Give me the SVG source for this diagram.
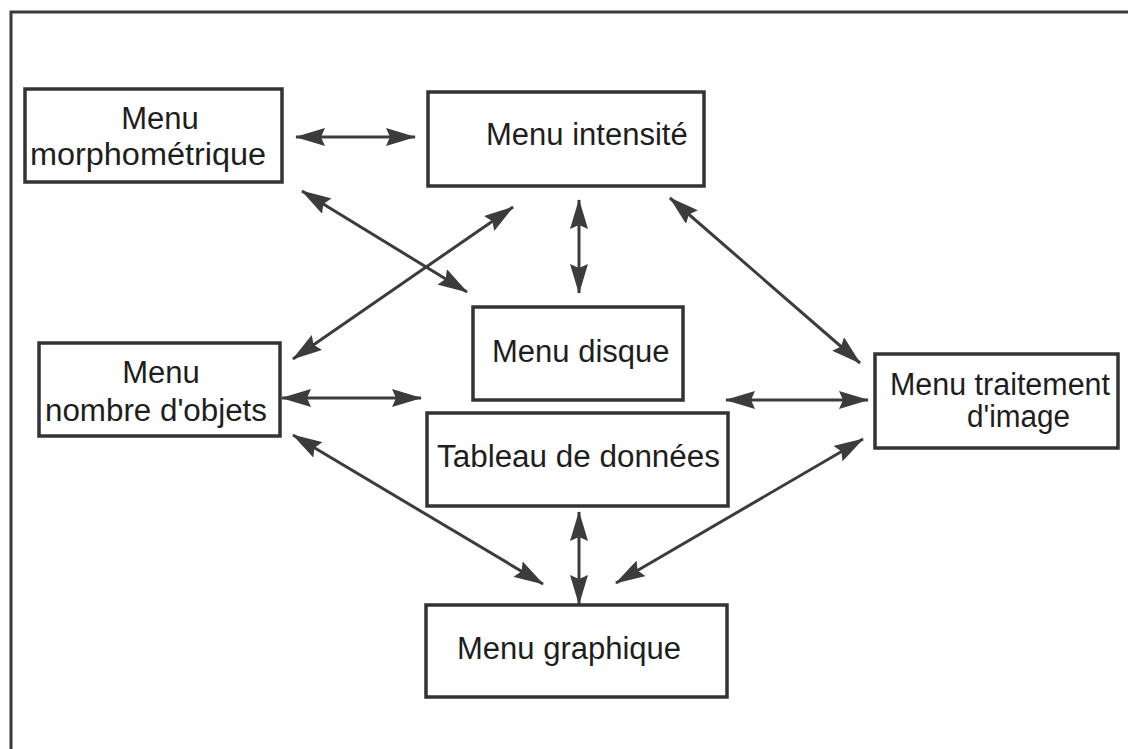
<svg xmlns="http://www.w3.org/2000/svg" width="1128" height="749" viewBox="0 0 1128 749">
  <style>
    .box { fill: #ffffff; stroke: #333333; stroke-width: 3.5; }
    .lbl { font-family: "Liberation Sans", Arial, sans-serif; font-size: 31px; fill: #1e1e1e; }
    .con { fill: none; stroke: #3c3c3c; stroke-width: 3; }
    .frame { fill: none; stroke: #3a3a3a; stroke-width: 3; }
  </style>
  <defs>
    <marker id="ah" viewBox="0 0 30 18" refX="29" refY="9" markerWidth="30" markerHeight="18" markerUnits="userSpaceOnUse" orient="auto-start-reverse">
      <path d="M0,0 L30,9 L0,18 L4,9 Z" fill="#3c3c3c"/>
    </marker>
  </defs>
  <rect width="1128" height="749" fill="#ffffff"/>
  <g id="frame">
    <path class="frame" d="M11,749 L11,12 L1128,12"/>
  </g>
  <g id="connectors">
    <path class="con" d="M296,137 L415,137" marker-start="url(#ah)" marker-end="url(#ah)"/>
    <path class="con" d="M302,191 L467,292" marker-start="url(#ah)" marker-end="url(#ah)"/>
    <path class="con" d="M513,207 L293,359" marker-start="url(#ah)" marker-end="url(#ah)"/>
    <path class="con" d="M579,200 L579,293" marker-start="url(#ah)" marker-end="url(#ah)"/>
    <path class="con" d="M670,198 L860,363" marker-start="url(#ah)" marker-end="url(#ah)"/>
    <path class="con" d="M282,398 L421,398" marker-start="url(#ah)" marker-end="url(#ah)"/>
    <path class="con" d="M726,400 L868,400" marker-start="url(#ah)" marker-end="url(#ah)"/>
    <path class="con" d="M293,435 L543,584" marker-start="url(#ah)" marker-end="url(#ah)"/>
    <path class="con" d="M579,512 L579,604" marker-start="url(#ah)" marker-end="url(#ah)"/>
    <path class="con" d="M863,439 L616,583" marker-start="url(#ah)" marker-end="url(#ah)"/>
  </g>
  <g id="menu-morphometrique">
    <rect class="box" x="25" y="89" width="257" height="93"/>
    <text class="lbl" x="160" y="129" text-anchor="middle">Menu</text>
    <text class="lbl" x="30" y="165" textLength="236" lengthAdjust="spacingAndGlyphs">morphométrique</text>
  </g>
  <g id="menu-intensite">
    <rect class="box" x="428" y="92" width="276" height="94"/>
    <text class="lbl" x="486" y="145">Menu intensité</text>
  </g>
  <g id="menu-disque">
    <rect class="box" x="473" y="307" width="210" height="93"/>
    <text class="lbl" x="492" y="362">Menu disque</text>
  </g>
  <g id="menu-nombre-objets">
    <rect class="box" x="39" y="343" width="241" height="93"/>
    <text class="lbl" x="161" y="383" text-anchor="middle">Menu</text>
    <text class="lbl" x="45" y="421" textLength="222" lengthAdjust="spacingAndGlyphs">nombre d'objets</text>
  </g>
  <g id="tableau-donnees">
    <rect class="box" x="427" y="413" width="301" height="93"/>
    <text class="lbl" x="437" y="467" textLength="283" lengthAdjust="spacingAndGlyphs">Tableau de données</text>
  </g>
  <g id="menu-traitement-image">
    <rect class="box" x="875" y="354" width="243" height="94"/>
    <text class="lbl" x="890" y="395" textLength="220" lengthAdjust="spacingAndGlyphs">Menu traitement</text>
    <text class="lbl" x="967" y="427" textLength="103" lengthAdjust="spacingAndGlyphs">d'image</text>
  </g>
  <g id="menu-graphique">
    <rect class="box" x="426" y="605" width="301" height="92"/>
    <text class="lbl" x="457" y="659">Menu graphique</text>
  </g>
</svg>
